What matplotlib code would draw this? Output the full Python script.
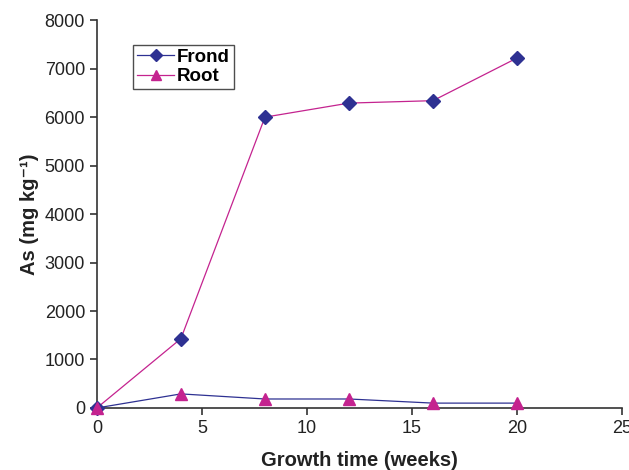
import matplotlib
matplotlib.use("Agg")
import matplotlib.pyplot as plt
from matplotlib.lines import Line2D

weeks = [0, 4, 8, 12, 16, 20]
frond = [0, 1430, 6000, 6290, 6340, 7220]
root = [0, 290, 185, 185, 100, 100]
x_ticks = [0, 5, 10, 15, 20, 25]
y_ticks = [0, 1000, 2000, 3000, 4000, 5000, 6000, 7000, 8000]

navy = "#2E3192"
magenta = "#C4238F"

plt.rcParams['font.family'] = ['Liberation Sans', 'DejaVu Sans']

fig = plt.figure(figsize=(6.29, 4.70), dpi=100)
ax = fig.add_axes([0.154, 0.132, 0.835, 0.825])

# lines (colours as in the original figure)
ax.plot(weeks, root, color=navy, lw=0.9, zorder=2, clip_on=False)
ax.plot(weeks, frond, color=magenta, lw=0.9, zorder=2, clip_on=False)
# markers
ax.plot(weeks, frond, ls='none', marker='D', ms=7.5, color=navy, mec=navy, zorder=3, clip_on=False)
ax.plot(weeks, root, ls='none', marker='^', ms=8, color=magenta, mec=magenta, zorder=4, clip_on=False)

ax.set_xlim(0, 25)
ax.set_ylim(0, 8000)
ax.set_xticks(x_ticks)
ax.set_yticks(y_ticks)
for s in ['top', 'right']:
    ax.spines[s].set_visible(False)
for s in ['left', 'bottom']:
    ax.spines[s].set_color('#333333')
    ax.spines[s].set_linewidth(1.2)
ax.tick_params(direction='out', length=5, width=1.2, color='#333333',
               labelsize=13, labelcolor='#222222')

ax.set_xlabel('Growth time (weeks)', fontsize=14.5, fontweight='bold', color='#222222', labelpad=10)
ax.set_ylabel('As (mg kg\u207b\u00b9)', fontsize=14.5, fontweight='bold', color='#222222', labelpad=4)

handles = [
    Line2D([], [], color=navy, lw=0.9, marker='D', ms=6, mfc=navy, mec=navy),
    Line2D([], [], color=magenta, lw=0.9, marker='^', ms=7, mfc=magenta, mec=magenta),
]
leg = ax.legend(handles, ['Frond', 'Root'], loc='upper left',
                bbox_to_anchor=(0.069, 0.937), frameon=True, fancybox=False,
                prop={'weight': 'bold', 'size': 13.5}, handlelength=2.0,
                handletextpad=0.15, borderpad=0.2, labelspacing=0.15,
                borderaxespad=0)
leg.get_frame().set_edgecolor('#222222')
leg.get_frame().set_linewidth(1.0)

fig.savefig('out.png', dpi=100)
